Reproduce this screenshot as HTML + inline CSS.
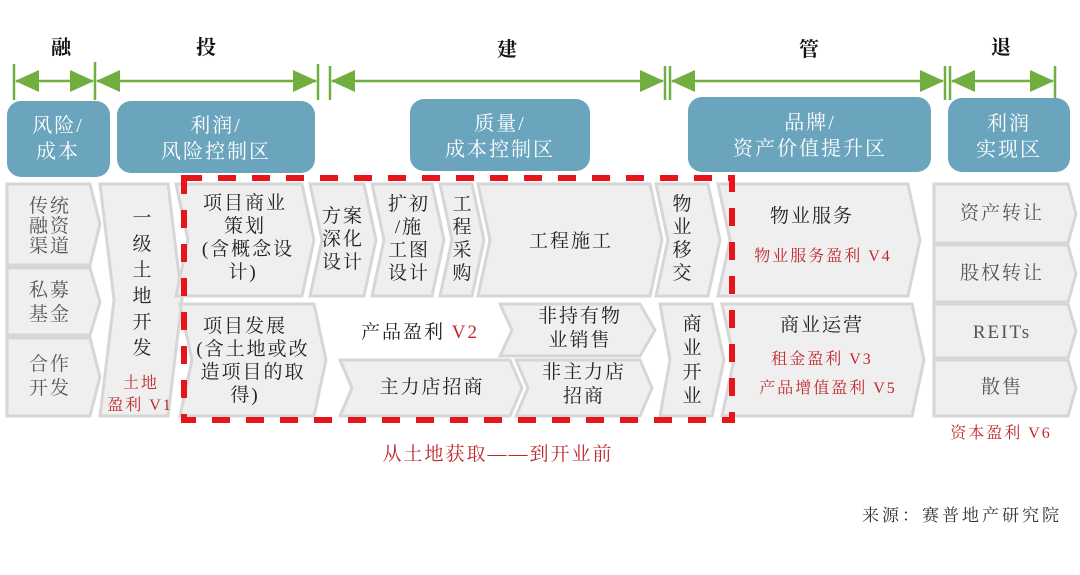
<!DOCTYPE html>
<html><head><meta charset="utf-8"><style>
body{margin:0;background:#fff;}
svg text{font-family:"Liberation Serif","Noto Serif CJK SC",serif;letter-spacing:2px;}
.g{fill:#efefef;stroke:#d6d6d6;stroke-width:3}
.t{font-size:19px;fill:#222;text-anchor:middle}
.tg{font-size:19px;fill:#555;text-anchor:middle}
.r{font-size:16px;fill:#c0282d;text-anchor:middle}
.h{font-size:20px;fill:#fff;text-anchor:middle}
.hb{fill:#6aa5bd}
.top{font-size:20px;font-weight:bold;fill:#111;text-anchor:middle}
</style></head><body>
<svg width="1080" height="570" viewBox="0 0 1080 570" xmlns="http://www.w3.org/2000/svg">
<defs>
<marker id="b" markerWidth="24" markerHeight="22" refX="23" refY="11" orient="auto-start-reverse" markerUnits="userSpaceOnUse"><path d="M0,0 L24,11 L0,22z" fill="#6fae3f"/></marker></defs>
<text class="top" x="62" y="54">融</text>
<text class="top" x="207" y="54">投</text>
<text class="top" x="508" y="56">建</text>
<text class="top" x="810" y="56">管</text>
<text class="top" x="1002" y="54">退</text>
<g stroke="#6fae3f" stroke-width="2.5">
<line x1="14" y1="64" x2="14" y2="100"/><line x1="95" y1="62" x2="95" y2="100"/>
<line x1="318" y1="64" x2="318" y2="100"/><line x1="330" y1="66" x2="330" y2="100"/>
<line x1="665" y1="66" x2="665" y2="100"/><line x1="670" y1="66" x2="670" y2="100"/>
<line x1="945" y1="66" x2="945" y2="100"/><line x1="950" y1="66" x2="950" y2="100"/>
<line x1="1055" y1="66" x2="1055" y2="100"/>
<line x1="16" y1="81" x2="93" y2="81" marker-start="url(#b)" marker-end="url(#b)"/>
<line x1="97" y1="81" x2="316" y2="81" marker-start="url(#b)" marker-end="url(#b)"/>
<line x1="332" y1="81" x2="663" y2="81" marker-start="url(#b)" marker-end="url(#b)"/>
<line x1="672" y1="81" x2="943" y2="81" marker-start="url(#b)" marker-end="url(#b)"/>
<line x1="952" y1="81" x2="1053" y2="81" marker-start="url(#b)" marker-end="url(#b)"/>
</g>
<rect class="hb" x="7" y="101" width="103" height="76" rx="14"/>
<text class="h" x="58" y="132">风险/</text><text class="h" x="58" y="158">成本</text>
<rect class="hb" x="117" y="101" width="198" height="72" rx="14"/>
<text class="h" x="216" y="132">利润/</text><text class="h" x="216" y="158">风险控制区</text>
<rect class="hb" x="410" y="99" width="180" height="72" rx="14"/>
<text class="h" x="500" y="130">质量/</text><text class="h" x="500" y="156">成本控制区</text>
<rect class="hb" x="688" y="97" width="243" height="75" rx="14"/>
<text class="h" x="810" y="129">品牌/</text><text class="h" x="810" y="155">资产价值提升区</text>
<rect class="hb" x="948" y="98" width="122" height="74" rx="14"/>
<text class="h" x="1009" y="130">利润</text><text class="h" x="1009" y="156">实现区</text>
<polygon class="g" points="7,184 90,184 100,224 90,265 7,265"/>
<polygon class="g" points="7,268 90,268 100,302 90,335 7,335"/>
<polygon class="g" points="7,338 90,338 100,377 90,416 7,416"/>
<text class="tg" x="50" y="212">传统</text><text class="tg" x="50" y="232">融资</text><text class="tg" x="50" y="252">渠道</text>
<text class="tg" x="50" y="296">私募</text><text class="tg" x="50" y="320">基金</text>
<text class="tg" x="50" y="370">合作</text><text class="tg" x="50" y="394">开发</text>
<polygon class="g" points="100,184 168,184 182,300 168,416 100,416 114,300"/>
<g class="t"><text x="143" y="224">一</text><text x="143" y="250">级</text><text x="143" y="276">土</text><text x="143" y="302">地</text><text x="143" y="328">开</text><text x="143" y="354">发</text></g>
<text class="r" x="141" y="388">土地</text><text class="r" x="140" y="410">盈利 V1</text>
<polygon class="g" points="176,184 302,184 314,240 302,296 176,296 188,240"/>
<text class="t" x="245" y="209">项目商业</text><text class="t" x="245" y="232">策划</text><text class="t" x="248" y="255">(含概念设</text><text class="t" x="243" y="278">计)</text>
<polygon class="g" points="310,184 364,184 376,240 364,296 310,296 322,240"/>
<text class="t" x="343" y="222">方案</text><text class="t" x="343" y="245">深化</text><text class="t" x="343" y="268">设计</text>
<polygon class="g" points="372,184 432,184 444,240 432,296 372,296 384,240"/>
<text class="t" x="409" y="210">扩初</text><text class="t" x="409" y="233">/施</text><text class="t" x="409" y="256">工图</text><text class="t" x="409" y="279">设计</text>
<polygon class="g" points="440,184 472,184 484,240 472,296 440,296 452,240"/>
<g class="t"><text x="463" y="210">工</text><text x="463" y="233">程</text><text x="463" y="256">采</text><text x="463" y="279">购</text></g>
<polygon class="g" points="478,184 650,184 662,240 650,296 478,296 490,240"/>
<text class="t" x="571" y="247">工程施工</text>
<polygon class="g" points="656,184 708,184 720,240 708,296 656,296 668,240"/>
<g class="t"><text x="683" y="210">物</text><text x="683" y="233">业</text><text x="683" y="256">移</text><text x="683" y="279">交</text></g>
<polygon class="g" points="718,184 908,184 920,240 908,296 718,296 730,240"/>
<text class="t" x="812" y="222">物业服务</text>
<text class="r" x="823" y="261">物业服务盈利 V4</text>
<polygon class="g" points="180,304 314,304 326,360 314,416 180,416 192,360"/>
<text class="t" x="245" y="332">项目发展</text><text class="t" x="253" y="355">(含土地或改</text><text class="t" x="253" y="378">造项目的取</text><text class="t" x="245" y="401">得)</text>
<polygon points="340,304 490,304 505,330 490,356 340,356" fill="#fff"/>
<text class="t" x="420" y="338">产品盈利 <tspan fill="#c0282d">V2</tspan></text>
<polygon class="g" points="500,304 640,304 655,330 640,356 500,356 512,330"/>
<text class="t" x="580" y="322">非持有物</text><text class="t" x="580" y="346">业销售</text>
<polygon class="g" points="340,360 510,360 522,388 510,416 340,416 352,388"/>
<text class="t" x="432" y="393">主力店招商</text>
<polygon class="g" points="516,360 640,360 652,388 640,416 516,416 528,388"/>
<text class="t" x="584" y="378">非主力店</text><text class="t" x="584" y="402">招商</text>
<polygon class="g" points="660,304 712,304 724,360 712,416 660,416 670,360"/>
<g class="t"><text x="693" y="330">商</text><text x="693" y="354">业</text><text x="693" y="378">开</text><text x="693" y="402">业</text></g>
<polygon class="g" points="722,304 912,304 924,360 912,416 722,416 734,360"/>
<text class="t" x="822" y="331">商业运营</text>
<text class="r" x="822" y="364">租金盈利 V3</text>
<text class="r" x="828" y="393">产品增值盈利 V5</text>
<polygon class="g" points="934,184 1068,184 1076,214 1068,243 934,243"/>
<polygon class="g" points="934,245 1068,245 1076,274 1068,302 934,302"/>
<polygon class="g" points="934,304 1068,304 1076,331 1068,358 934,358"/>
<polygon class="g" points="934,360 1068,360 1076,388 1068,416 934,416"/>
<text class="tg" x="1002" y="219">资产转让</text>
<text class="tg" x="1002" y="279">股权转让</text>
<text class="tg" x="1002" y="338">REITs</text>
<text class="tg" x="1002" y="393">散售</text>
<text class="r" x="1001" y="438">资本盈利 V6</text>
<rect x="184" y="178" width="548" height="242" fill="none" stroke="#e8141b" stroke-width="6" stroke-dasharray="18,16"/>
<text x="498" y="460" font-size="19" fill="#c0282d" text-anchor="middle">从土地获取——到开业前</text>
<text x="962" y="521" font-size="17" fill="#333" text-anchor="middle" style="letter-spacing:3px">来源：赛普地产研究院</text>
</svg>
</body></html>
